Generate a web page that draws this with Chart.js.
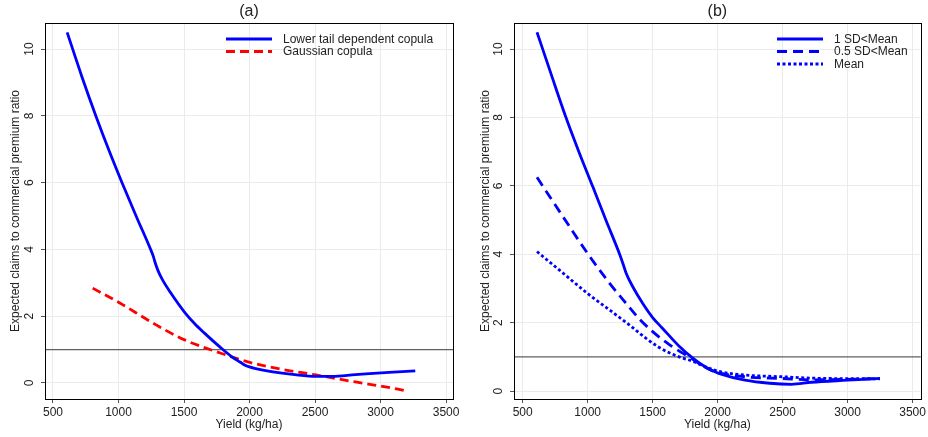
<!DOCTYPE html>
<html>
<head>
<meta charset="utf-8">
<script src="https://cdn.jsdelivr.net/npm/chart.js@4.4.1/dist/chart.umd.min.js"></script>
<style>
    html, body { margin: 0; padding: 0; background: #fff; }
    .panel { position: absolute; top: 0; width: 464px; height: 437px; }
    #panelA { left: 0; }
    #panelB { left: 464px; }
</style>
</head>
<body>
<div class="panel" id="panelA"><canvas id="chartA" width="464" height="437"></canvas></div>
<div class="panel" id="panelB"><canvas id="chartB" width="464" height="437"></canvas></div>
<script>
/* ---- data ---- */
const xTicks = [500, 1000, 1500, 2000, 2500, 3000, 3500];
const yTicks = [0, 2, 4, 6, 8, 10];

// panel (a)
const lowerTailX = [608, 720, 828, 936, 1031, 1140, 1244, 1265, 1280, 1300, 1334, 1398, 1508, 1580, 1654, 1782, 1860, 1930, 1962, 2000, 2038, 2167, 2346, 2508, 2628, 2808, 3065, 3265];
const lowerTailY = [10.5, 9.18, 7.99, 6.88, 5.96, 4.95, 4.01, 3.8, 3.6, 3.38, 3.1, 2.7, 2.1, 1.78, 1.5, 1.05, 0.8, 0.62, 0.54, 0.48, 0.44, 0.34, 0.25, 0.2, 0.2, 0.25, 0.32, 0.36];
const gaussianX = [803, 1013, 1269, 1505, 1782, 2008, 2246, 2508, 2808, 3013, 3192];
const gaussianY = [2.84, 2.39, 1.78, 1.29, 0.89, 0.61, 0.41, 0.24, 0.03, -0.1, -0.23];

// panel (b)
const sd1X = [610, 720, 831, 935, 1042, 1140, 1246, 1271, 1297, 1347, 1424, 1500, 1575, 1702, 1804, 1900, 1957, 2008, 2211, 2400, 2569, 2721, 3000, 3248];
const sd1Y = [10.49, 9.25, 8.02, 6.97, 5.95, 5.0, 4.0, 3.73, 3.44, 3.05, 2.56, 2.15, 1.84, 1.32, 0.98, 0.72, 0.6, 0.52, 0.32, 0.23, 0.2, 0.26, 0.32, 0.37];
const sd05X = [610, 801, 1000, 1169, 1297, 1400, 1500, 1628, 1780, 1957, 2211, 2500, 2721, 3248];
const sd05Y = [6.25, 5.15, 4.02, 3.15, 2.56, 2.1, 1.74, 1.36, 1.0, 0.6, 0.42, 0.37, 0.33, 0.37];
const meanX = [610, 788, 1004, 1169, 1322, 1447, 1540, 1628, 1720, 1804, 1900, 2008, 2211, 2500, 2721, 3248];
const meanY = [4.08, 3.52, 2.84, 2.37, 1.93, 1.55, 1.3, 1.12, 0.98, 0.88, 0.72, 0.58, 0.47, 0.42, 0.38, 0.36];

// reference line y = 1
const refX = [400, 3600];
const refY = [1, 1];

const FONT = "'Liberation Sans', Arial, sans-serif";
const BLUE = '#0000ff';
const RED = '#ff0000';

const pts = (xs, ys) => xs.map((x, i) => ({ x, y: ys[i] }));

function lineSet(label, xs, ys, color, dash, legend = true) {
    return {
        label, data: pts(xs, ys), borderColor: color, backgroundColor: color,
        borderWidth: 2.8, borderDash: dash, borderCapStyle: 'butt',
        pointRadius: 0, cubicInterpolationMode: 'monotone', showInLegend: legend
    };
}

// frame, rotated y tick labels, axis titles, panel title and legend
const stataDecor = {
    id: 'stataDecor',
    afterDraw(chart, args, o) {
        const ctx = chart.ctx, a = chart.chartArea, ys = chart.scales.y;
        ctx.save();
        ctx.strokeStyle = '#000';
        ctx.lineWidth = 1;
        ctx.strokeRect(Math.round(a.left) + 0.5, Math.round(a.top) + 0.5, Math.round(a.right - a.left), Math.round(a.bottom - a.top));

        ctx.fillStyle = '#222';
        ctx.font = '12px ' + FONT;
        ctx.textAlign = 'center';
        ctx.textBaseline = 'middle';
        yTicks.forEach(v => {
            ctx.save();
            ctx.translate(o.tickX, ys.getPixelForValue(v));
            ctx.rotate(-Math.PI / 2);
            ctx.fillText(String(v), 0, 0);
            ctx.restore();
        });
        ctx.save();
        ctx.translate(o.titleX, 211);
        ctx.rotate(-Math.PI / 2);
        ctx.fillText('Expected claims to commercial premium ratio', 0, 0);
        ctx.restore();
        ctx.fillText('Yield (kg/ha)', (a.left + a.right) / 2, 425);

        ctx.font = '16px ' + FONT;
        ctx.fillText(o.title, (a.left + a.right) / 2, 12);

        // legend
        ctx.font = '12px ' + FONT;
        ctx.textAlign = 'left';
        const items = chart.data.datasets.filter(d => d.showInLegend);
        items.forEach((d, i) => {
            const y = 39 + i * 12.5;
            ctx.beginPath();
            ctx.strokeStyle = d.borderColor;
            ctx.lineWidth = 3;
            ctx.setLineDash(d.borderDash || []);
            ctx.moveTo(o.legendX, y);
            ctx.lineTo(o.legendX + 46, y);
            ctx.stroke();
            ctx.setLineDash([]);
            ctx.fillText(d.label, o.legendX + 57, y + 0.5);
        });
        ctx.restore();
    }
};

function makePanel(id, datasets, yMin, yMax, xMin, xMax, leftW, rightPad, decor) {
    new Chart(document.getElementById(id), {
        type: 'line',
        data: { datasets },
        options: {
            responsive: false, animation: false, maintainAspectRatio: false,
            layout: { padding: { top: 23, right: rightPad, left: 0, bottom: 0 } },
            plugins: { legend: { display: false }, tooltip: { enabled: false }, stataDecor: decor },
            scales: {
                x: {
                    type: 'linear', min: xMin, max: xMax,
                    afterBuildTicks: s => { s.ticks = xTicks.map(v => ({ value: v })); },
                    afterFit: s => { s.height = 38; },
                    grid: { color: '#ebebeb', lineWidth: 1, tickLength: 4, tickColor: '#555' },
                    border: { display: false },
                    ticks: { color: '#222', font: { family: FONT, size: 12 }, padding: 2, maxRotation: 0, autoSkip: false, callback: v => String(v) }
                },
                y: {
                    type: 'linear', min: yMin, max: yMax,
                    afterBuildTicks: s => { s.ticks = yTicks.map(v => ({ value: v })); },
                    afterFit: s => { s.width = leftW; },
                    grid: { color: '#ebebeb', lineWidth: 1, tickLength: 4, tickColor: '#555' },
                    border: { display: false },
                    ticks: { display: false }
                }
            }
        },
        plugins: [stataDecor]
    });
}

const refLine = () => Object.assign(lineSet('ref', refX, refY, '#606060', [], false), { borderWidth: 1.3, order: 10, cubicInterpolationMode: 'default', tension: 0 });

makePanel('chartA', [
    lineSet('Lower tail dependent copula', lowerTailX, lowerTailY, BLUE, []),
    lineSet('Gaussian copula', gaussianX, gaussianY, RED, [9, 5]),
    refLine()
], -0.48, 10.78, 439, 3553, 45, 11, { title: '(a)', tickX: 30, titleX: 16, legendX: 226 });

makePanel('chartB', [
    lineSet('1 SD<Mean', sd1X, sd1Y, BLUE, []),
    lineSet('0.5 SD<Mean', sd05X, sd05Y, BLUE, [10, 6]),
    lineSet('Mean', meanX, meanY, BLUE, [3, 2.5]),
    refLine()
], -0.23, 10.76, 433, 3563, 50, 5, { title: '(b)', tickX: 35, titleX: 22, legendX: 313 });
</script>
</body>
</html>
